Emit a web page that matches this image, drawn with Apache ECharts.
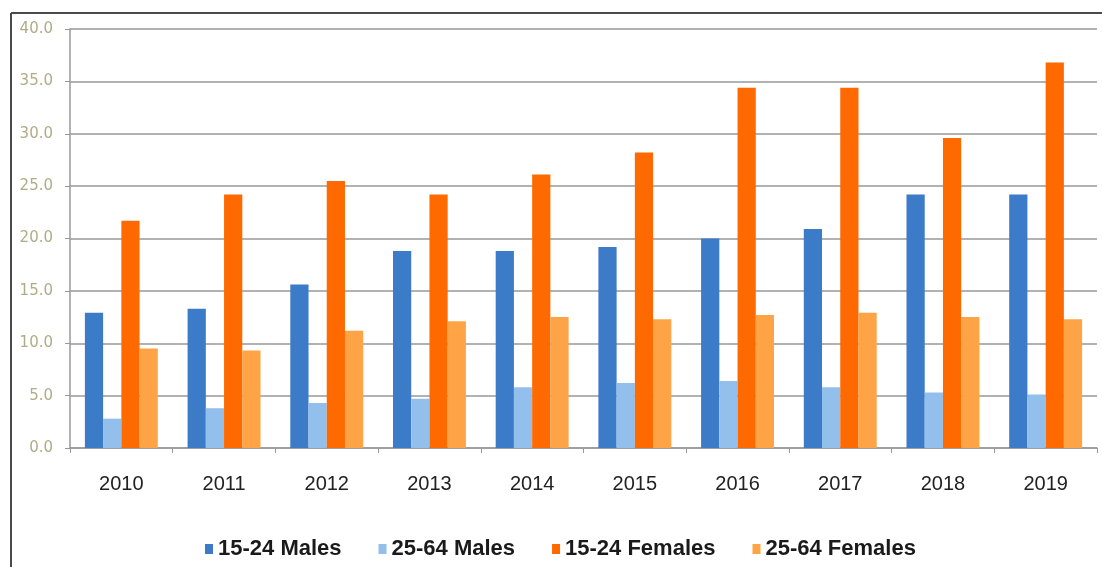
<!DOCTYPE html>
<html>
<head>
<meta charset="utf-8">
<script src="https://cdn.jsdelivr.net/npm/echarts@6/dist/echarts.min.js"></script>
<style>html,body{margin:0;padding:0;background:#fff}#c{width:1102px;height:567px}</style>
</head>
<body>
<div id="c"></div>
<script>
var years = ['2010','2011','2012','2013','2014','2015','2016','2017','2018','2019'];
var seriesNames = ['15-24 Males','25-64 Males','15-24 Females','25-64 Females'];
var males1524   = [12.9, 13.3, 15.6, 18.8, 18.8, 19.2, 20.0, 20.9, 24.2, 24.2];
var males2564   = [2.8, 3.8, 4.3, 4.7, 5.8, 6.2, 6.4, 5.8, 5.3, 5.1];
var females1524 = [21.7, 24.2, 25.5, 24.2, 26.1, 28.2, 34.4, 34.4, 29.6, 36.8];
var females2564 = [9.5, 9.3, 11.2, 12.1, 12.5, 12.3, 12.7, 12.9, 12.5, 12.3];
var colors = ['#3b7bc8', '#93bfec', '#ff6a00', '#ffa347'];

var chart = echarts.init(document.getElementById('c'), null, {renderer: 'canvas'});
var data = [males1524, males2564, females1524, females2564];
var series = data.map(function (d, i) {
  return {
    name: seriesNames[i], type: 'bar', data: d,
    barGap: '0%', barCategoryGap: '29%',
    itemStyle: {color: colors[i]}
  };
});
chart.setOption({
  animation: false,
  color: colors,
  graphic: [
    {type: 'line', shape: {x1: 11, y1: 13, x2: 1102, y2: 13}, style: {stroke: '#4a4a4a', lineWidth: 2}},
    {type: 'line', shape: {x1: 11, y1: 13, x2: 11, y2: 567}, style: {stroke: '#4a4a4a', lineWidth: 2}}
  ],
  grid: {left: 70, right: 5, top: 29, bottom: 119, containLabel: false},
  legend: {
    data: seriesNames, left: 200, top: 533,
    icon: 'rect', itemWidth: 8, itemHeight: 10, itemGap: 37,
    textStyle: {fontFamily: 'Liberation Sans, Arial', fontWeight: 'bold', fontSize: 22, color: '#1a1a1a'}
  },
  xAxis: {
    type: 'category', data: years,
    axisLine: {lineStyle: {color: '#999', width: 1.5}},
    axisTick: {show: true, length: 5, lineStyle: {color: '#999'}},
    axisLabel: {margin: 26, fontFamily: 'Liberation Sans, Arial', fontSize: 20, color: '#222'}
  },
  yAxis: {
    type: 'value', min: 0, max: 40, interval: 5,
    axisLine: {show: true, lineStyle: {color: '#999', width: 1.5}},
    axisTick: {show: true, length: 5, lineStyle: {color: '#999'}},
    splitLine: {lineStyle: {color: '#999', width: 1.5}},
    axisLabel: {margin: 17, fontFamily: 'DejaVu Sans, Verdana', fontSize: 15, color: '#b0ac86',
      formatter: function (v) { return v.toFixed(1); }}
  },
  series: series
});
</script>
</body>
</html>
